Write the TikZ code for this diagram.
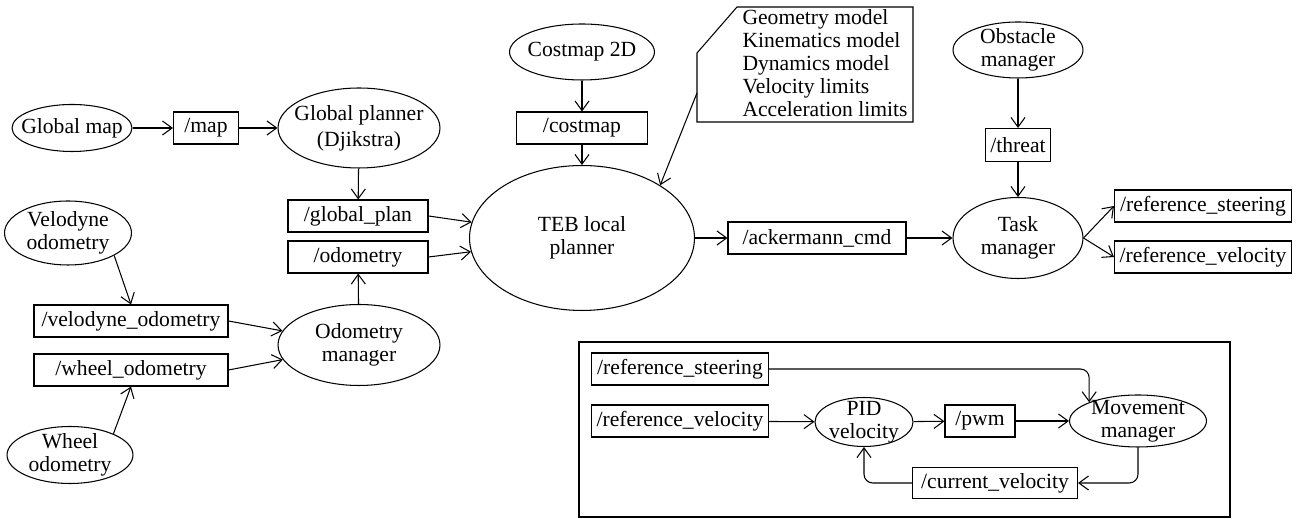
\documentclass[tikz,border=0pt]{standalone}
\usepackage{fontspec}
\setmainfont{Liberation Serif}
\usetikzlibrary{
  shapes.geometric,
  positioning,
  calc,
  arrows.meta
}

\begin{document}
\begin{tikzpicture}[x=0.02cm, y=-0.02cm, line width=0.6pt,
    font=\fontsize{12.3}{13}\selectfont,
    >={Straight Barb[length=5.5pt,width=8pt]},
    proc/.style={ellipse, draw, inner sep=-10pt, align=center},
    topic/.style={rectangle, draw, minimum height=0.64cm, inner sep=2pt}]
    \useasboundingbox (0,0) rectangle (1296,519);

    % odometry and global planning
    \node[proc, minimum width=2.4cm, minimum height=0.94cm] (gmap) at (72,128) {Global map};
    \node[topic, minimum width=1.3cm] (map) at (206,128) {/map};
    \node[proc, minimum width=3.24cm, minimum height=1.6cm] (gplanner) at (359,128) {Global planner\\[2pt](Djikstra)};
    \node[topic, minimum width=2.8cm] (gplan) at (358,216) {/global\_plan};
    \node[topic, minimum width=2.8cm] (odom) at (358,257) {/odometry};
    \node[proc, minimum width=2.54cm, minimum height=1.28cm] (velodyne) at (68,233) {Velodyne\\odometry};
    \node[topic, minimum width=3.88cm] (velo) at (131,321) {/velodyne\_odometry};
    \node[topic, minimum width=3.88cm] (wodom) at (131,370) {/wheel\_odometry};
    \node[proc, minimum width=2.52cm, minimum height=1.14cm] (wheel) at (70,455) {Wheel\\odometry};
    \node[proc, minimum width=3.24cm, minimum height=1.62cm] (odomgr) at (359,345) {Odometry\\manager};

    % local planner
    \node[proc, minimum width=2.9cm, minimum height=1.12cm] (costmap2d) at (582,52) {Costmap 2D};
    \node[topic, minimum width=2.62cm] (costmap) at (582,128) {/costmap};
    \node[proc, minimum width=4.5cm, minimum height=2.9cm] (teb) at (582,238) {TEB local\\planner};
    \node[topic, minimum width=3.56cm] (ack) at (817,238) {/ackermann\_cmd};
    \node[anchor=west, align=left, inner sep=0pt] (params) at (742,63)
      {Geometry model\\Kinematics model\\Dynamics model\\Velocity limits\\Acceleration limits};
    \draw (697,53) -- (737,7) -- (913,7) -- (913,122) -- (697,122) -- cycle;
    \coordinate (ptr) at (697,93);

    % task manager
    \node[proc, minimum width=2.6cm, minimum height=1.12cm] (obst) at (1018,50) {Obstacle\\manager};
    \node[topic, minimum width=1.3cm, minimum height=0.66cm] (threat) at (1018,145) {/threat};
    \node[proc, minimum width=2.6cm, minimum height=1.62cm] (task) at (1018,238) {Task\\manager};
    \node[topic, minimum width=3.54cm] (rsteer) at (1203,206) {/reference\_steering};
    \node[topic, minimum width=3.54cm] (rvel) at (1203,257) {/reference\_velocity};

    % movement controller
    \draw (579,342) rectangle (1230,517);
    \node[topic, minimum width=3.54cm] (rsteer2) at (680,369) {/reference\_steering};
    \node[topic, minimum width=3.54cm] (rvel2) at (680,421) {/reference\_velocity};
    \node[proc, minimum width=1.96cm, minimum height=0.98cm] (pid) at (864,422) {PID\\velocity};
    \node[topic, minimum width=1.4cm] (pwm) at (980,421) {/pwm};
    \node[proc, minimum width=2.74cm, minimum height=1.04cm] (move) at (1138,421) {Movement\\manager};
    \node[topic, minimum width=3.3cm, minimum height=0.62cm] (cvel) at (995,483) {/current\_velocity};

    \draw[->] (gmap) -- (map);
    \draw[->] (map) -- (gplanner);
    \draw[->] (gplanner) -- (gplan);
    \draw[->] (gplan.east) -- (teb);
    \draw[->] (odom.east) -- (teb);
    \draw[->] (velodyne.-26) -- (velo.north);
    \draw[->] (wheel.26) -- (wodom.south);
    \draw[->] (velo.east) -- (odomgr);
    \draw[->] (wodom.east) -- (odomgr);
    \draw[->] (odomgr) -- (odom);
    \draw[->] (costmap2d) -- (costmap);
    \draw[->] (costmap) -- (teb);
    \draw[->] (ptr) -- (teb.34);
    \draw[->] (teb) -- (ack);
    \draw[->] (ack) -- (task);
    \draw[->] (obst) -- (threat);
    \draw[->] (threat) -- (task);
    \draw[->] (task.east) -- (rsteer.west);
    \draw[->] (task.east) -- (rvel.west);

    \draw[->, rounded corners=5pt] (rsteer2.east) -| (move.159);
    \draw[->] (rvel2) -- (pid);
    \draw[->] (pid) -- (pwm);
    \draw[->] (pwm) -- (move);
    \draw[->, rounded corners=5pt] (move.south) |- (cvel.east);
    \draw[->, rounded corners=5pt] (cvel.west) -| (pid.south);
\end{tikzpicture}
\end{document}
